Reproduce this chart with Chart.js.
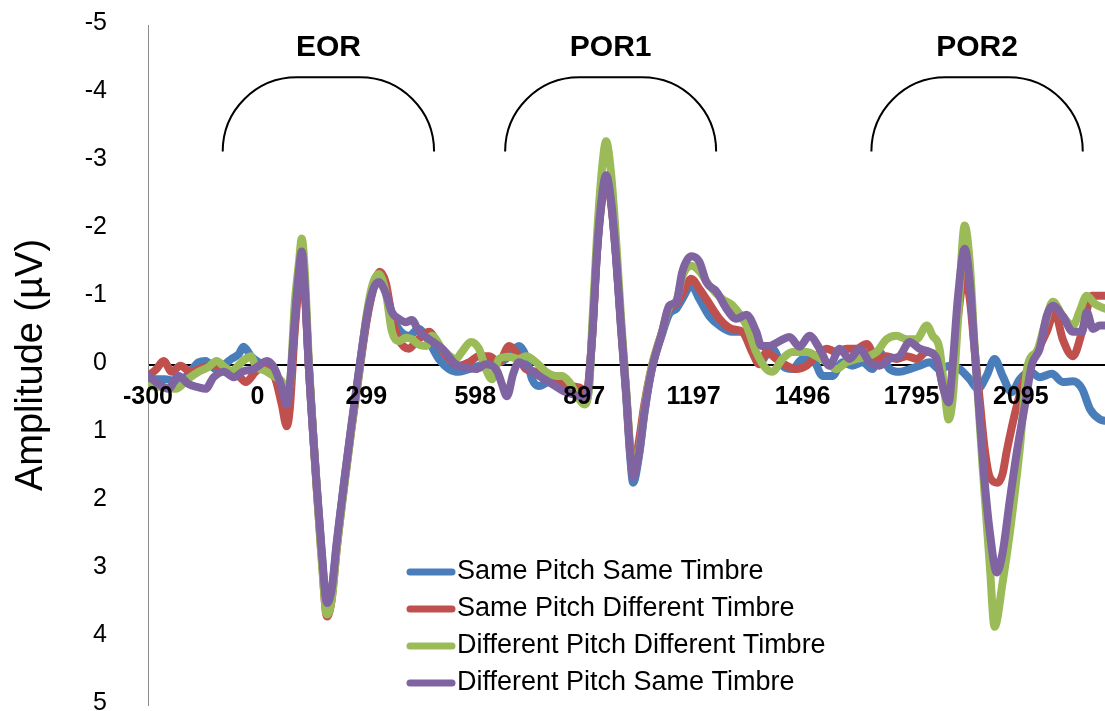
<!DOCTYPE html>
<html>
<head>
<meta charset="utf-8">
<script src="https://cdn.jsdelivr.net/npm/chart.js@4.4.1/dist/chart.umd.min.js"></script>
<style>
  html, body { margin: 0; padding: 0; background: #ffffff; }
  #wrap { width: 1105px; height: 711px; position: relative; }
</style>
</head>
<body>
<div id="wrap"><canvas id="erp"></canvas></div>
<script>
// Time axis labels (ms)
const tickValues = [-300, 0, 299, 598, 897, 1197, 1496, 1795, 2095];

// Same Pitch Same Timbre
const spstTime = [-299,-252,-216,-189,-161,-142,-114,-92,-71,-51,-38,-16,12,39,64,81,89,103,114,122,130,141,163,177,191,204,218,237,259,281,300,317,333,353,369,388,416,443,471,498,526,553,581,608,636,663,691,718,737,754,773,801,828,864,891,905,919,932,946,957,971,985,998,1012,1023,1031,1048,1062,1081,1111,1130,1150,1166,1191,1213,1240,1268,1303,1331,1358,1378,1413,1441,1468,1496,1523,1551,1578,1606,1633,1661,1688,1707,1735,1762,1790,1817,1845,1872,1900,1927,1955,1977,2001,2023,2045,2070,2092,2120,2147,2180,2210,2238,2263,2285,2312,2326];
const spstAmp = [0.21,0.21,0.25,0.13,-0.04,-0.06,0.06,0.0,-0.09,-0.16,-0.27,-0.12,-0.01,0.1,0.25,0.5,0.35,-0.6,-1.34,-1.64,-1.19,0,1.78,2.79,3.57,3.33,2.64,1.76,0.87,0,-0.68,-1.12,-1.3,-1.12,-0.75,-0.53,-0.43,-0.53,-0.34,-0.09,0.06,0.1,0.06,0.01,-0.04,-0.04,-0.13,-0.28,-0.13,0.21,0.31,0.25,0.25,0.35,0.46,0.5,-0.46,-1.64,-2.45,-2.75,-2.37,-1.53,-0.53,0.46,1.34,1.73,1.31,0.72,0.09,-0.46,-0.75,-0.83,-0.97,-1.17,-0.97,-0.72,-0.58,-0.49,-0.49,-0.24,-0.04,-0.24,0.01,0.06,-0.09,-0.09,0.16,0.16,-0.04,0.01,-0.04,0.06,-0.19,0.06,0.1,0.06,0.01,-0.04,0.06,0.01,0.06,0.21,0.35,0.16,-0.09,0.16,0.4,0.21,0.1,0.18,0.13,0.25,0.24,0.35,0.65,0.8,0.82];

// Same Pitch Different Timbre
const spdtTime = [-299,-277,-257,-235,-211,-183,-161,-125,-87,-51,-32,-5,23,50,67,81,89,103,114,122,130,141,163,177,191,204,218,237,259,281,300,317,336,353,369,388,416,435,471,498,526,553,581,608,636,663,691,710,737,765,792,828,864,891,902,919,932,946,957,971,985,998,1012,1023,1031,1048,1062,1081,1111,1130,1150,1166,1191,1213,1232,1268,1303,1331,1358,1378,1397,1424,1452,1479,1507,1534,1562,1589,1617,1644,1672,1699,1727,1754,1782,1809,1837,1864,1881,1897,1908,1922,1941,1955,1968,1982,1996,2010,2032,2045,2056,2084,2111,2139,2166,2188,2210,2238,2263,2290,2326];
const spdtAmp = [0.16,0.06,-0.06,0.1,0.01,0.1,0.06,0.01,0.06,0.16,0.25,0.1,-0.01,0.21,0.58,0.9,0.65,-0.53,-1.2,-1.55,-1.12,0,1.83,2.86,3.7,3.45,2.7,1.83,0.91,0.06,-0.65,-1.09,-1.37,-1.2,-0.71,-0.38,-0.24,-0.34,-0.49,-0.28,-0.09,0.01,-0.04,-0.13,-0.13,-0.04,-0.28,-0.19,0.06,0.1,0.16,0.25,0.31,0.35,0.43,-0.43,-1.67,-2.45,-2.75,-2.37,-1.56,-0.58,0.4,1.24,1.53,1.09,0.58,0.06,-0.49,-0.83,-0.9,-1.05,-1.27,-1.12,-0.97,-0.68,-0.53,-0.49,-0.19,-0.01,-0.19,-0.09,0.01,0.06,0.01,-0.13,-0.24,-0.19,-0.24,-0.24,-0.31,-0.09,-0.13,-0.09,-0.13,-0.09,-0.19,-0.13,0.31,0.55,0.06,-0.68,-1.31,-0.97,-0.24,0.5,1.24,1.65,1.73,1.6,1.28,0.6,0.1,-0.19,-0.49,-0.78,-0.38,-0.13,-0.49,-1.02,-1.02];

// Different Pitch Different Timbre
const dpdtTime = [-299,-271,-224,-189,-161,-134,-112,-90,-71,-51,-32,-18,-5,23,50,67,81,89,103,114,122,130,141,163,177,191,204,218,237,259,281,300,317,333,353,369,388,408,424,443,463,479,507,545,561,586,608,627,644,663,691,718,737,765,792,820,836,856,883,897,911,919,932,946,957,971,985,998,1012,1023,1031,1048,1062,1081,1111,1130,1150,1166,1191,1213,1240,1276,1303,1342,1369,1397,1413,1441,1468,1507,1534,1562,1589,1617,1644,1672,1699,1727,1754,1782,1809,1837,1853,1872,1886,1897,1908,1922,1941,1955,1968,1990,2010,2023,2045,2065,2092,2114,2139,2161,2183,2210,2238,2257,2276,2298,2326];
const dpdtAmp = [0.31,0.32,0.35,0.2,0.1,0.03,-0.06,0.03,0.09,0.0,-0.09,-0.13,0.01,0.09,0.18,0.24,0.4,0.3,-0.93,-1.5,-1.86,-1.4,-0.1,1.8,2.9,3.67,3.45,2.7,1.85,0.9,0.05,-0.75,-1.2,-1.34,-1.05,-0.5,-0.35,-0.4,-0.38,-0.3,-0.28,-0.43,-0.24,-0.09,-0.19,-0.34,-0.24,0.06,0.21,-0.09,-0.12,-0.09,-0.13,-0.04,0.1,0.16,0.16,0.25,0.5,0.58,0.3,-0.6,-1.9,-2.9,-3.29,-2.8,-1.8,-0.7,0.35,1.2,1.6,1.25,0.65,0.05,-0.5,-0.85,-0.95,-1.3,-1.46,-1.38,-1.17,-0.97,-0.88,-0.58,-0.19,0.06,0.1,-0.09,-0.19,-0.19,-0.13,-0.04,0.06,-0.04,-0.09,-0.12,-0.19,-0.38,-0.43,-0.38,-0.38,-0.58,-0.43,-0.24,0.4,0.8,0.5,-0.6,-2.05,-1.5,-0.3,1.49,2.96,3.85,3.2,2.46,1.24,0,-0.2,-0.6,-0.93,-0.72,-0.58,-0.8,-1.02,-0.9,-0.83];

// Different Pitch Same Timbre
const dpstTime = [-299,-271,-244,-216,-189,-161,-142,-120,-92,-65,-38,-10,9,26,45,64,81,89,103,114,122,130,141,163,177,191,204,218,237,259,281,300,317,333,353,369,388,408,424,443,479,507,545,572,600,627,658,671,685,702,718,746,773,809,847,883,902,919,932,946,957,971,985,998,1012,1023,1031,1048,1062,1081,1111,1130,1150,1166,1191,1213,1232,1260,1287,1314,1342,1369,1383,1405,1433,1460,1488,1515,1543,1570,1598,1625,1653,1680,1707,1735,1762,1790,1817,1845,1864,1881,1897,1908,1922,1941,1955,1968,1982,1996,2010,2029,2045,2065,2084,2106,2125,2147,2166,2183,2210,2238,2263,2276,2293,2312,2326];
const dpstAmp = [0.16,0.28,0.35,0.16,0.28,0.33,0.35,0.18,0.1,0.18,0.09,0.06,-0.01,-0.06,0.03,0.28,0.58,0.31,-0.68,-1.37,-1.67,-1.17,0,1.78,2.76,3.5,3.3,2.6,1.78,0.85,0,-0.7,-1.1,-1.22,-1.05,-0.78,-0.68,-0.63,-0.66,-0.5,-0.35,-0.24,-0.01,0.04,0.06,-0.01,0.09,0.28,0.46,0.13,-0.04,0.06,0.16,0.28,0.4,0.46,0.5,-0.43,-1.67,-2.5,-2.79,-2.4,-1.56,-0.58,0.4,1.28,1.65,1.28,0.69,0.1,-0.49,-0.87,-0.93,-1.37,-1.6,-1.52,-1.22,-1.08,-0.83,-0.68,-0.74,-0.49,-0.28,-0.28,-0.35,-0.41,-0.27,-0.43,-0.24,0.01,-0.24,-0.09,-0.24,-0.04,0.01,-0.09,-0.13,-0.34,-0.24,-0.19,-0.09,0.31,0.55,0,-0.97,-1.71,-1.22,-0.24,0.75,1.73,2.46,3.05,2.76,1.98,1.28,0.6,0,-0.24,-0.72,-0.87,-0.72,-0.49,-0.49,-0.78,-0.53,-0.58,-0.58];

// Analysis windows drawn above the waveforms (ms)
const windows = [
  { label: 'EOR',  from: -95,  to: 485 },
  { label: 'POR1', from: 680,  to: 1259 },
  { label: 'POR2', from: 1685, to: 2265 }
];
const bracketBase = -3.14;   // µV level where each bracket ends
const bracketTop = -4.23;    // µV level of the bracket's flat top
const bracketLabelLevel = -4.66;

const FONT = "'Liberation Sans', Arial, Helvetica, sans-serif";

function toPoints(times, amps) {
  return times.map((t, i) => ({ x: t, y: amps[i] }));
}

const windowBrackets = {
  id: 'windowBrackets',
  afterDatasetsDraw(chart) {
    const { ctx, scales: { x, y } } = chart;
    ctx.save();
    ctx.strokeStyle = '#000000';
    ctx.fillStyle = '#000000';
    ctx.lineWidth = 2;
    ctx.font = 'bold 30px ' + FONT;
    ctx.textAlign = 'center';
    ctx.textBaseline = 'middle';
    windows.forEach(w => {
      const x0 = x.getPixelForValue(w.from);
      const x1 = x.getPixelForValue(w.to);
      const yb = y.getPixelForValue(bracketBase);
      const yt = y.getPixelForValue(bracketTop);
      const r = Math.min(yb - yt, (x1 - x0) / 2);
      ctx.beginPath();
      ctx.moveTo(x0, yb);
      ctx.arc(x0 + r, yb, r, Math.PI, 1.5 * Math.PI);
      ctx.lineTo(x1 - r, yt);
      ctx.arc(x1 - r, yb, r, 1.5 * Math.PI, 2 * Math.PI);
      ctx.stroke();
      ctx.fillText(w.label, (x0 + x1) / 2, y.getPixelForValue(bracketLabelLevel));
    });
    ctx.restore();
  }
};

const insideLegend = {
  id: 'insideLegend',
  afterDraw(chart) {
    const ctx = chart.ctx;
    const left = 410, top = 572, gap = 37;
    ctx.save();
    ctx.font = '27px ' + FONT;
    ctx.textAlign = 'left';
    ctx.textBaseline = 'middle';
    chart.data.datasets.forEach((ds, i) => {
      const yy = top + i * gap;
      ctx.strokeStyle = ds.borderColor;
      ctx.lineWidth = 7;
      ctx.lineCap = 'round';
      ctx.beginPath();
      ctx.moveTo(left, yy);
      ctx.lineTo(left + 42, yy);
      ctx.stroke();
      ctx.fillStyle = '#000000';
      ctx.fillText(ds.label, left + 47, yy);
    });
    ctx.restore();
  }
};

const lineStyle = {
  borderWidth: 8,
  pointRadius: 0,
  pointHoverRadius: 0,
  fill: false,
  cubicInterpolationMode: 'monotone',
  borderJoinStyle: 'round',
  borderCapStyle: 'round'
};

new Chart(document.getElementById('erp'), {
  type: 'line',
  data: {
    datasets: [
      Object.assign({ label: 'Same Pitch Same Timbre', data: toPoints(spstTime, spstAmp), borderColor: '#4a7ebb', order: 3 }, lineStyle),
      Object.assign({ label: 'Same Pitch Different Timbre', data: toPoints(spdtTime, spdtAmp), borderColor: '#c0504d', order: 2 }, lineStyle),
      Object.assign({ label: 'Different Pitch Different Timbre', data: toPoints(dpdtTime, dpdtAmp), borderColor: '#9bbb59', order: 1 }, lineStyle),
      Object.assign({ label: 'Different Pitch Same Timbre', data: toPoints(dpstTime, dpstAmp), borderColor: '#8064a2', order: 0 }, lineStyle)
    ]
  },
  options: {
    responsive: true,
    maintainAspectRatio: false,
    animation: false,
    events: [],
    layout: { padding: { left: 0, right: 0, top: 25, bottom: 6 } },
    plugins: { legend: { display: false }, tooltip: { enabled: false } },
    scales: {
      x: {
        type: 'linear',
        min: -300,
        max: 2326,
        position: { y: 0 },
        afterBuildTicks(scale) {
          scale.ticks = tickValues.map(v => ({ value: v }));
        },
        ticks: {
          z: 1,
          autoSkip: false,
          maxRotation: 0,
          padding: 9,
          color: '#000000',
          font: { family: FONT, size: 25, weight: 'bold' },
          callback: v => String(v)
        },
        grid: { display: false },
        border: { display: false }
      },
      y: {
        type: 'linear',
        reverse: true,
        min: -5,
        max: 5,
        ticks: {
          stepSize: 1,
          padding: 41,
          labelOffset: -2,
          color: '#000000',
          font: { family: FONT, size: 25 }
        },
        grid: {
          drawTicks: false,
          color: c => (c.tick && c.tick.value === 0 ? '#000000' : 'rgba(0,0,0,0)'),
          lineWidth: c => (c.tick && c.tick.value === 0 ? 2 : 1)
        },
        border: { color: '#8c8c8c', width: 1 },
        title: {
          display: true,
          text: 'Amplitude (µV)',
          color: '#000000',
          font: { family: FONT, size: 38 },
          padding: { top: 9, bottom: 0 }
        },
        afterFit(scale) {
          scale.width = 148;
          scale.paddingTop = 0;
          scale.paddingBottom = 0;
        }
      }
    }
  },
  plugins: [windowBrackets, insideLegend]
});
</script>
</body>
</html>
